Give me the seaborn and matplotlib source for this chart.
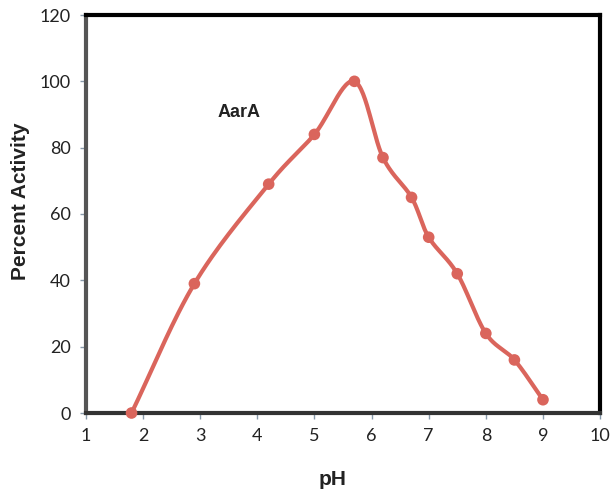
import numpy as np
import pandas as pd
import matplotlib
matplotlib.use("Agg")
import matplotlib.pyplot as plt
import seaborn as sns

ph = [1.8, 2.9, 4.2, 5.0, 5.7, 6.2, 6.7, 7.0, 7.5, 8.0, 8.5, 9.0]
activity = [0, 39, 69, 84, 100, 77, 65, 53, 42, 24, 16, 4]
x_ticks = [1, 2, 3, 4, 5, 6, 7, 8, 9, 10]
y_ticks = [0, 20, 40, 60, 80, 100, 120]

LINE_COLOR = "#DA655C"


def smooth_curve(x, y, n=30):
    """Catmull-Rom style smoothing, like Excel's smoothed line"""
    x = np.asarray(x, float)
    y = np.asarray(y, float)
    px = np.concatenate([[2 * x[0] - x[1]], x, [2 * x[-1] - x[-2]]])
    py = np.concatenate([[2 * y[0] - y[1]], y, [2 * y[-1] - y[-2]]])
    xs, ys = [], []
    t = np.linspace(0, 1, n)
    for i in range(1, len(px) - 2):
        p0, p1, p2, p3 = [np.array([px[j], py[j]]) for j in range(i - 1, i + 3)]
        c1 = p1 + (p2 - p0) / 6
        c2 = p2 - (p3 - p1) / 6
        pts = ((1 - t) ** 3)[:, None] * p1 + (3 * (1 - t) ** 2 * t)[:, None] * c1 \
            + (3 * (1 - t) * t ** 2)[:, None] * c2 + (t ** 3)[:, None] * p2
        xs.extend(pts[:, 0])
        ys.extend(pts[:, 1])
    return np.array(xs), np.array(ys)


sns.set_theme(style="white")
plt.rcParams['font.family'] = ['Liberation Sans', 'DejaVu Sans']

fig = plt.figure(figsize=(6.13, 5.0), dpi=100)
ax = fig.add_axes([0.140, 0.174, 0.839, 0.796])

sx, sy = smooth_curve(ph, activity)
ax.plot(sx, sy, color=LINE_COLOR, lw=3, solid_capstyle="round", zorder=3)
df = pd.DataFrame({"pH": ph, "activity": activity})
sns.scatterplot(data=df, x="pH", y="activity", ax=ax, color=LINE_COLOR,
                s=70, edgecolor="none", zorder=4, clip_on=False)

ax.set_xlim(1, 10)
ax.set_ylim(0, 120)
ax.set_xticks(x_ticks)
ax.set_yticks(y_ticks)
ax.tick_params(axis="both", which="both", length=4, width=1, color="#8899aa",
               labelsize=13, direction="out", bottom=True, left=True,
               labelcolor="#222222", pad=7)
for lab in ax.get_xticklabels() + ax.get_yticklabels():
    lab.set_family(["Lato", "DejaVu Sans"])

for side in ["top", "right"]:
    ax.spines[side].set_color("black")
    ax.spines[side].set_linewidth(3)
ax.spines["left"].set_color("#555555")
ax.spines["left"].set_linewidth(3)
ax.spines["bottom"].set_color("#333333")
ax.spines["bottom"].set_linewidth(3)

ax.set_xlabel("pH", fontsize=15, fontweight="bold", color="#222222")
ax.set_ylabel("Percent Activity", fontsize=15, fontweight="bold", color="#222222")
ax.xaxis.set_label_coords(0.48, -0.143)
ax.yaxis.set_label_coords(-0.109, 0.533)
ax.text(3.31, 89.2, "AarA", fontsize=13, fontweight="bold", color="#222222")

fig.savefig("out.png", dpi=100)
